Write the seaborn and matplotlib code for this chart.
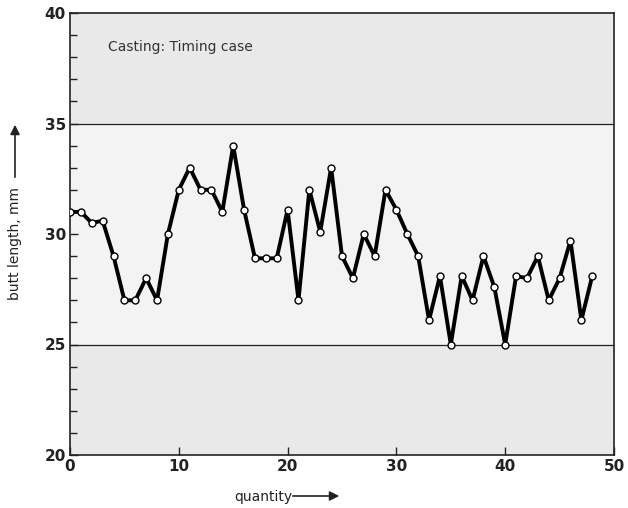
import matplotlib
matplotlib.use("Agg")
import matplotlib.pyplot as plt
import seaborn as sns
import pandas as pd
from matplotlib.ticker import MultipleLocator

sample = list(range(49))
butt_length = [31, 31, 30.5, 30.6, 29, 27, 27, 28, 27, 30,
               32, 33, 32, 32, 31, 34, 31.1, 28.9, 28.9, 28.9,
               31.1, 27, 32, 30.1, 33, 29, 28, 30, 29, 32,
               31.1, 30, 29, 26.1, 28.1, 25, 28.1, 27, 29, 27.6,
               25, 28.1, 28, 29, 27, 28, 29.7, 26.1, 28.1]
x_ticks = [0, 10, 20, 30, 40, 50]
y_ticks = [20, 25, 30, 35, 40]
tolerance = [25, 35]

df = pd.DataFrame({"quantity": sample, "butt": butt_length})

sns.set_style("white")
plt.rcParams["font.family"] = ["DejaVu Sans"]

fig = plt.figure(figsize=(6.28, 5.08), dpi=100)
ax = fig.add_axes([70/628, 1-455/508, (614-70)/628, (455-13)/508])

ax.set_facecolor("#e9e9e9")
ax.axhspan(tolerance[0], tolerance[1], color="#f3f3f3", zorder=0, lw=0)
for t in tolerance:
    ax.axhline(t, color="#222222", lw=0.9, zorder=1)

sns.lineplot(data=df, x="quantity", y="butt", ax=ax, color="black", lw=2.8,
             marker="o", markersize=5, markerfacecolor="white",
             markeredgecolor="black", markeredgewidth=1.0, zorder=3)

ax.set_xlim(0, 50)
ax.set_ylim(20, 40)
ax.set_xticks(x_ticks)
ax.set_yticks(y_ticks)
ax.yaxis.set_minor_locator(MultipleLocator(1))
ax.tick_params(axis="both", which="both", left=True, bottom=True,
               direction="in", color="#222222")
ax.tick_params(axis="both", which="major", length=6, width=1,
               labelsize=11, pad=3)
ax.tick_params(axis="y", which="minor", length=5, width=1)
for lab in ax.get_xticklabels() + ax.get_yticklabels():
    lab.set_fontweight("bold")
    lab.set_color("#222222")
for s in ax.spines.values():
    s.set_color("#222222")
    s.set_linewidth(1.2)
ax.set_xlabel("")
ax.set_ylabel("")

ax.text(108/628, 1-47/508, "Casting: Timing case", transform=fig.transFigure,
        fontsize=10, color="#333333", va="center", ha="left")

# axis labels with arrows
fig.text(263/628, 1-497/508, "quantity", fontsize=10, ha="center", va="center", color="#222222")
ax.annotate("", xy=(342/628, 1-496/508), xytext=(290/628, 1-496/508),
            xycoords="figure fraction", textcoords="figure fraction",
            arrowprops=dict(arrowstyle="-|>", color="#222222", lw=1.2,
                            mutation_scale=14))
fig.text(15/628, 1-244/508, "butt length, mm", fontsize=10, rotation=90,
         ha="center", va="center", color="#222222")
ax.annotate("", xy=(15/628, 1-122/508), xytext=(15/628, 1-180/508),
            xycoords="figure fraction", textcoords="figure fraction",
            arrowprops=dict(arrowstyle="-|>", color="#222222", lw=1.2,
                            mutation_scale=14))

fig.savefig("out.png", dpi=100)
